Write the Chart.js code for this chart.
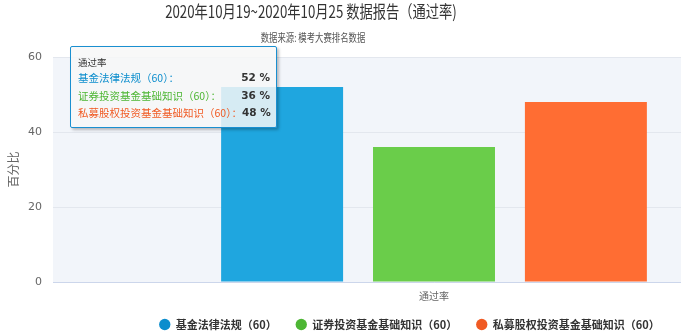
<!DOCTYPE html>
<html>
<head>
<meta charset="utf-8">
<script src="https://cdn.jsdelivr.net/npm/chart.js@4.4.0/dist/chart.umd.min.js"></script>
<style>
  html, body { margin: 0; padding: 0; background: #fff; overflow: hidden; width: 681px; height: 335px; }
  #wrap { position: relative; width: 815px; height: 335px; }
  #title { position: absolute; left: 0; top: -2px; width: 622px; text-align: center; white-space: nowrap;
    font: 17px "Noto Sans CJK SC", sans-serif; color: #333; transform: scaleX(0.78); transform-origin: 311px 0; }
  #subtitle { position: absolute; left: 0; top: 29px; width: 626px; text-align: center; white-space: nowrap;
    font: 11px "Noto Sans CJK SC", sans-serif; color: #555; transform: scaleX(0.76); transform-origin: 313px 0; }
  #tip { position: absolute; left: 70px; top: 46px; width: 207px; height: 82px; box-sizing: border-box;
    background: rgba(247, 247, 247, 0.85); border: 1px solid #1a8fd0; border-radius: 2px;
    box-shadow: 2px 2px 3px rgba(0, 0, 0, 0.25); font: 10.5px "Noto Sans CJK SC", sans-serif;
    padding: 8px 6px 0 7px; display: none; white-space: nowrap; }
  #tip .t { font-size: 9.5px; color: #333; line-height: 14px; }
  #tip .row { display: flex; justify-content: space-between; line-height: 17.5px; }
  #tip .row b { color: #333; font-family: "DejaVu Sans", sans-serif; font-size: 10.5px; }
</style>
</head>
<body>
<div id="wrap">
  <canvas id="chart" width="815" height="335"></canvas>
  <div id="title">2020年10月19~2020年10月25 数据报告（通过率)</div>
  <div id="subtitle">数据来源: 模考大赛排名数据</div>
  <div id="tip"></div>
</div>
<script>
const categories = ["通过率"];
const seriesNames = ["基金法律法规（60）", "证券投资基金基础知识（60）", "私募股权投资基金基础知识（60）"];
const seriesValues = [[52], [36], [48]];
const barColors = ["#1fa6df", "#6acd4a", "#ff6d33"];
const legendColors = ["#0b8dcd", "#4db634", "#f05a23"];
const yTicks = [0, 20, 40, 60];
const yTitle = "百分比";

const plotBackground = {
  id: "plotBackground",
  beforeDraw(chart) {
    const { ctx, chartArea } = chart;
    ctx.save();
    ctx.fillStyle = "#f2f5fa";
    ctx.fillRect(chartArea.left, chartArea.top, chartArea.right - chartArea.left, chartArea.bottom - chartArea.top);
    ctx.restore();
  },
};

// the legend sits closer to the axis than chart.js padding allows, so lift it a bit
const legendLift = {
  id: "legendLift",
  afterInit(chart) {
    const legend = chart.legend;
    if (!legend) return;
    const draw = legend.draw.bind(legend);
    legend.draw = (area) => {
      chart.ctx.save();
      chart.ctx.translate(0, -10);
      draw(area);
      chart.ctx.restore();
    };
  },
};

function externalTooltip(context) {
  const el = document.getElementById("tip");
  const tooltip = context.tooltip;
  if (tooltip.opacity === 0) { el.style.display = "none"; return; }
  let html = `<div class="t">${tooltip.title[0] || ""}</div>`;
  tooltip.dataPoints.forEach((dp) => {
    html += `<div class="row"><span style="color:${legendColors[dp.datasetIndex]}">${dp.dataset.label}：</span><b>${dp.parsed.y} %</b></div>`;
  });
  el.innerHTML = html;
  el.style.display = "block";
}

const chart = new Chart(document.getElementById("chart"), {
  type: "bar",
  data: {
    labels: categories,
    datasets: seriesNames.map((name, i) => ({
      label: name,
      data: seriesValues[i],
      backgroundColor: barColors[i],
      hoverBackgroundColor: barColors[i],
      borderWidth: 0,
      categoryPercentage: 0.598,
      barPercentage: 0.803,
    })),
  },
  plugins: [plotBackground, legendLift],
  options: {
    responsive: false,
    animation: false,
    layout: { padding: { top: 57, right: 0, left: 4, bottom: -15 } },
    interaction: { mode: "index", intersect: false },
    plugins: {
      legend: {
        position: "bottom",
        labels: {
          usePointStyle: true,
          pointStyle: "circle",
          boxWidth: 11,
          boxHeight: 8,
          padding: 19,
          color: "#333",
          font: { family: "'Noto Sans CJK SC', sans-serif", size: 11, weight: "bold" },
          generateLabels: (c) => c.data.datasets.map((ds, i) => ({
            text: ds.label,
            fillStyle: legendColors[i],
            strokeStyle: legendColors[i],
            lineWidth: 0,
            pointStyle: "circle",
            datasetIndex: i,
            fontColor: "#333",
          })),
        },
      },
      tooltip: { enabled: false, external: externalTooltip },
    },
    scales: {
      x: {
        grid: { display: false, drawTicks: false },
        border: { display: true, color: "#ccd6eb" },
        ticks: { color: "#666", padding: 8, font: { family: "'Noto Sans CJK SC', sans-serif", size: 10 } },
      },
      y: {
        min: 0,
        max: 60,
        afterBuildTicks: (scale) => { scale.ticks = yTicks.map((v) => ({ value: v })); },
        afterFit: (scale) => { scale.width = 49; },
        grid: { color: "#e3e7ee", drawTicks: false },
        border: { display: false },
        ticks: { color: "#666", padding: 11, font: { family: "'DejaVu Sans', sans-serif", size: 11 } },
        title: { display: true, text: yTitle, color: "#666", padding: 2, font: { family: "'Noto Sans CJK SC', sans-serif", size: 12 } },
      },
    },
  },
});

const active = seriesNames.map((_, i) => ({ datasetIndex: i, index: 0 }));
chart.setActiveElements(active);
chart.tooltip.setActiveElements(active, { x: 282, y: 120 });
chart.update();
</script>
</body>
</html>
